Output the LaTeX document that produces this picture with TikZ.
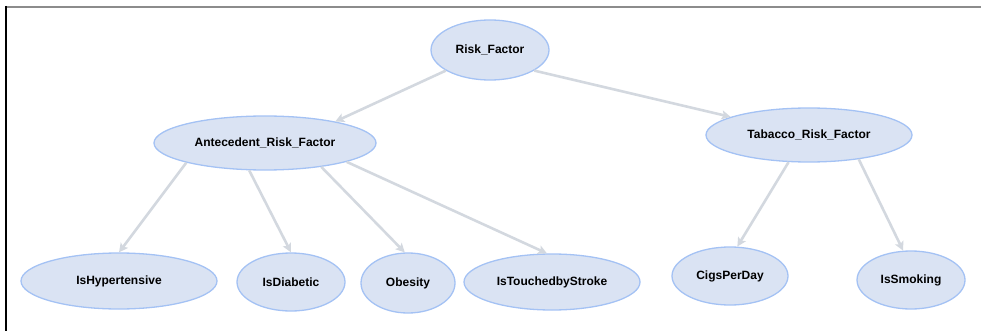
\documentclass[tikz,border=0pt]{standalone}
\usepackage{fontspec}
\setmainfont{Liberation Sans}
\usetikzlibrary{shapes.geometric,arrows.meta}
\definecolor{nodefill}{HTML}{DAE3F3}
\definecolor{nodeline}{HTML}{A4C2F4}
\definecolor{edgecol}{HTML}{D3D8DF}
\begin{document}
\begin{tikzpicture}[x=1pt,y=-1pt,
  concept/.style={ellipse, draw=nodeline, line width=1.3pt, fill=nodefill,
    inner sep=0pt, font=\fontsize{12}{14}\selectfont\bfseries},
  link/.style={draw=edgecol, line width=2.6pt,
    -{Stealth[length=9pt,width=9pt,inset=2pt]}}]
  \useasboundingbox (0,0) rectangle (981,331);
  % frame edges
  \draw[line width=2pt, color=gray!90] (6,7) -- (981,7);
  \draw[line width=1.5pt, color=black] (6,6) -- (6,331);

  % root
  \node[concept, minimum width=118pt, minimum height=60pt] (risk) at (490,50) {Risk\_Factor};
  % second level
  \node[concept, minimum width=222pt, minimum height=54pt] (ante) at (265,143) {Antecedent\_Risk\_Factor};
  \node[concept, minimum width=206pt, minimum height=54pt] (tab) at (809,135) {Tabacco\_Risk\_Factor};
  % leaves
  \node[concept, minimum width=196pt, minimum height=56pt] (hyp) at (119,281) {IsHypertensive};
  \node[concept, minimum width=108pt, minimum height=58pt] (diab) at (291,282) {IsDiabetic};
  \node[concept, minimum width=94pt, minimum height=60pt] (obes) at (408,283) {Obesity};
  \node[concept, minimum width=176pt, minimum height=56pt] (stroke) at (552,282) {IsTouchedbyStroke};
  \node[concept, minimum width=116pt, minimum height=58pt] (cigs) at (730,276) {CigsPerDay};
  \node[concept, minimum width=108pt, minimum height=58pt] (smok) at (911,280) {IsSmoking};

  % connectors
  \draw[link] (risk.205) -- (ante.17);
  \draw[link] (risk.335) -- (tab.167);
  \draw[link] (ante.194) -- (hyp.north);
  \draw[link] (ante.240) -- (diab.north);
  \draw[link] (ante.337) -- (obes.96);
  \draw[link] (ante.347) -- (stroke.100);
  \draw[link] (tab.233) -- (cigs.76);
  \draw[link] (tab.334) -- (smok.105);
\end{tikzpicture}
\end{document}
